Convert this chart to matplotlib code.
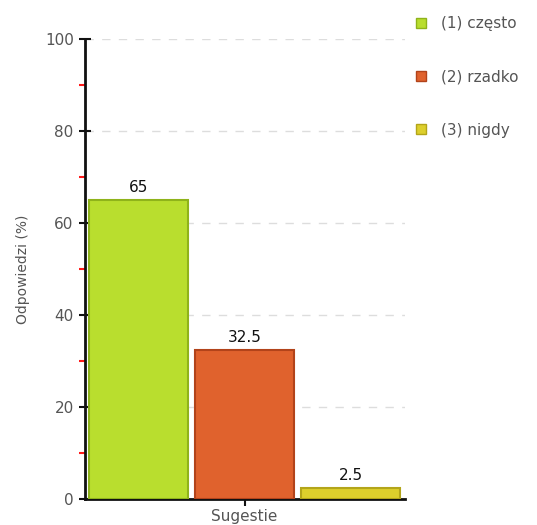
import matplotlib
matplotlib.use('Agg')
import matplotlib.pyplot as plt
from matplotlib.lines import Line2D
import numpy as np

categories = ['(1) często', '(2) rzadko', '(3) nigdy']
values = [65, 32.5, 2.5]
value_labels = ['65', '32.5', '2.5']
face_colors = ['#b9de2e', '#e0622d', '#ddcf2c']
edge_colors = ['#8fb31a', '#b2431a', '#b3a51a']

plt.rcParams['font.family'] = 'DejaVu Sans'

fig = plt.figure(figsize=(5.37, 5.25), dpi=100)
ax = fig.add_axes([0.158, 0.0495, 0.596, 0.8762])

x = np.arange(len(values))
bars = ax.bar(x, values, width=0.93, color=face_colors, edgecolor=edge_colors,
              linewidth=1.5, zorder=3)
for xi, v, lab in zip(x, values, value_labels):
    ax.text(xi, v + 1.0, lab, ha='center', va='bottom', fontsize=11, color='#111111')

ax.set_xlim(-0.505, 2.51)
ax.set_ylim(0, 100)
ax.set_yticks([0, 20, 40, 60, 80, 100])
ax.set_yticks([10, 30, 50, 70, 90], minor=True)
ax.set_xticks([1])
ax.set_xticklabels(['Sugestie'])

ax.yaxis.grid(True, linestyle=(0, (6, 6)), color='#dddddd', linewidth=1, zorder=0)
ax.tick_params(axis='y', which='major', direction='inout', length=8, width=1.5,
               labelsize=11, labelcolor='#555555', color='#111111', pad=4)
ax.tick_params(axis='y', which='minor', direction='out', length=4, width=1.5,
               color='#ff1a1a')
ax.tick_params(axis='x', direction='out', length=5, width=1.5, labelsize=11,
               labelcolor='#555555', color='#111111', pad=2)

for s in ['top', 'right']:
    ax.spines[s].set_visible(False)
for s in ['left', 'bottom']:
    ax.spines[s].set_linewidth(2)
    ax.spines[s].set_color('#111111')

ax.set_ylabel('Odpowiedzi (%)', fontsize=10, color='#555555', labelpad=11)

handles = [Line2D([], [], marker='s', linestyle='', markersize=7,
                  markerfacecolor=fc, markeredgecolor=ec, markeredgewidth=1)
           for fc, ec in zip(face_colors, edge_colors)]
fig.legend(handles, categories, loc='upper left', bbox_to_anchor=(0.745, 0.995),
           frameon=False, fontsize=11, labelspacing=2.5, handlelength=1.0,
           handletextpad=0.8, labelcolor='#555555')

fig.savefig('out.png', dpi=100)
